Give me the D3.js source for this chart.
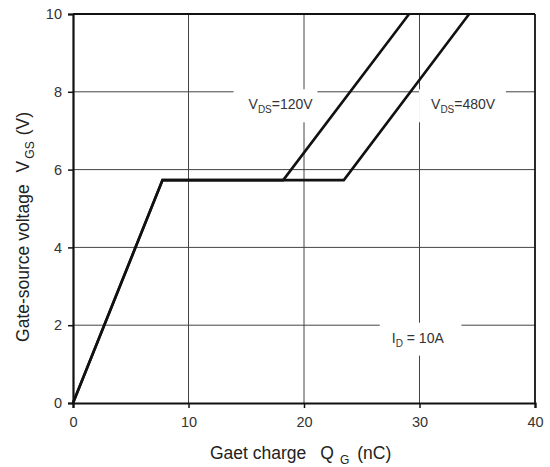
<!DOCTYPE html>
<html>
<head>
<meta charset="utf-8">
<script src="https://cdn.jsdelivr.net/npm/d3@7"></script>
<style>
  body { margin: 0; background: #fff; }
  text { font-family: "Liberation Sans", Arial, sans-serif; fill: #222; white-space: pre; }
</style>
</head>
<body>
<div id="chart"></div>
<script>
// gate charge curves
var qg120 = [0, 7.75, 18.2, 29.1];
var vgs120 = [0, 5.73, 5.73, 10];
var qg480 = [0, 7.75, 23.45, 34.3];
var vgs480 = [0, 5.73, 5.73, 10];

var xTicks = [0, 10, 20, 30, 40];
var yTicks = [0, 2, 4, 6, 8, 10];

var width = 550;
var height = 467;
var margin = {top: 14, right: 15, bottom: 64, left: 73};
var w = width - margin.left - margin.right;
var h = height - margin.top - margin.bottom;

var svg = d3.select("#chart").append("svg")
    .attr("width", width)
    .attr("height", height);

svg.append("rect").attr("width", width).attr("height", height).attr("fill", "#fff");

var g = svg.append("g")
    .attr("transform", "translate(" + margin.left + "," + margin.top + ")");

var x = d3.scaleLinear().domain([0, 40]).range([0, w]);
var y = d3.scaleLinear().domain([0, 10]).range([h, 0]);

// grid lines
var grid = g.append("g").attr("class", "grid");

grid.selectAll("line.gx")
    .data(xTicks.slice(1, -1))
  .enter().append("line")
    .attr("class", "gx")
    .attr("x1", function(d) { return x(d); })
    .attr("x2", function(d) { return x(d); })
    .attr("y1", 0).attr("y2", h)
    .style("stroke", "#444").style("stroke-width", 1);

grid.selectAll("line.gy")
    .data(yTicks.slice(1, -1))
  .enter().append("line")
    .attr("class", "gy")
    .attr("x1", 0).attr("x2", w)
    .attr("y1", function(d) { return y(d); })
    .attr("y2", function(d) { return y(d); })
    .style("stroke", "#444").style("stroke-width", 1);

// top and right frame
g.append("line").attr("x1", 0).attr("x2", w).attr("y1", 0).attr("y2", 0)
    .style("stroke", "#111").style("stroke-width", 1.8);
g.append("line").attr("x1", w).attr("x2", w).attr("y1", 0).attr("y2", h)
    .style("stroke", "#111").style("stroke-width", 1.8);

// labels with a white box behind, cutting the grid
var annotations = [
  {main: "V", sub: "DS", rest: "=120V", qx: 15.2, vy: 7.55, padL: 15, padR: 4},
  {main: "V", sub: "DS", rest: "=480V", qx: 31.0, vy: 7.55, padL: 12, padR: 10},
  {main: "I", sub: "D", rest: " = 10A", qx: 27.6, vy: 1.55, padL: 12, padR: 17}
];

var labelLayer = g.append("g");
annotations.forEach(function(a) {
  var t = labelLayer.append("text")
      .attr("x", x(a.qx))
      .attr("y", y(a.vy))
      .style("font-size", "14px")
      .style("fill", "#333");
  t.append("tspan").text(a.main);
  t.append("tspan").attr("dy", 4).style("font-size", "10px").text(a.sub);
  t.append("tspan").attr("dy", -4).text(a.rest);
  var bb = t.node().getBBox();
  labelLayer.insert("rect", "text")
      .attr("x", bb.x - a.padL)
      .attr("y", bb.y - 7)
      .attr("width", bb.width + a.padL + a.padR)
      .attr("height", bb.height + 14)
      .attr("fill", "#fff");
});

// curves
var line = d3.line()
    .x(function(d) { return x(d[0]); })
    .y(function(d) { return y(d[1]); });

[[qg120, vgs120], [qg480, vgs480]].forEach(function(s) {
  g.append("path")
      .datum(d3.zip(s[0], s[1]))
      .attr("d", line)
      .style("fill", "none")
      .style("stroke", "#111")
      .style("stroke-width", 2.6)
      .style("stroke-linejoin", "miter");
});

// axes
var xAxis = g.append("g")
    .attr("transform", "translate(0," + h + ")")
    .call(d3.axisBottom(x).tickValues(xTicks).tickSize(5).tickPadding(9));
var yAxis = g.append("g")
    .call(d3.axisLeft(y).tickValues(yTicks).tickSize(5).tickPadding(6));

[xAxis, yAxis].forEach(function(a) {
  a.select(".domain").style("stroke", "#111").style("stroke-width", 2.2);
  a.selectAll(".tick line").style("stroke", "#111").style("stroke-width", 1.5);
  a.selectAll(".tick text")
      .style("font-family", "'Liberation Sans', Arial, sans-serif")
      .style("font-size", "14.5px")
      .style("fill", "#333");
});

// axis titles
var xt = svg.append("text")
    .attr("x", 210)
    .attr("y", 459)
    .style("font-size", "17.5px");
xt.append("tspan").text("Gaet charge");
xt.append("tspan").attr("dx", 14).text("Q");
xt.append("tspan").attr("dx", 6).attr("dy", 5).style("font-size", "12px").text("G");
xt.append("tspan").attr("dx", 8).attr("dy", -5).text("(nC)");

var yt = svg.append("text")
    .attr("transform", "translate(29,227) rotate(-90)")
    .attr("text-anchor", "middle")
    .style("font-size", "17.5px");
yt.append("tspan").text("Gate-source voltage");
yt.append("tspan").attr("dx", 12).text("V");
yt.append("tspan").attr("dx", 2).attr("dy", 5).style("font-size", "12px").text("GS");
yt.append("tspan").attr("dx", 6).attr("dy", -5).text("(V)");
</script>
</body>
</html>
